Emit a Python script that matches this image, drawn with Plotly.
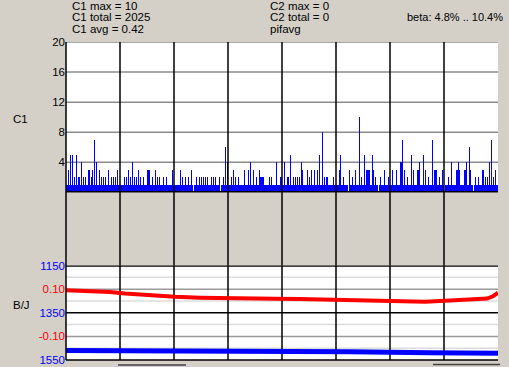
import plotly.graph_objects as go

# ---------------- data ----------------
# C1 counts, one value per pixel column, 8 divisions of 54 columns ('a' = 10)
c1_divisions = [
    "1131515121" "5122141212" "1133123171" "4113121212" "1131121212" "1311",
    "1111212131" "2141212131" "2112111333" "1121131212" "1112112111" "1131",
    "1111113121" "1211211310" "1121121212" "1212111212" "1211120112" "1614",
    "1112131211" "2111113111" "3141131121" "1322221111" "1212111141" "1122",
    "1141122151" "1212121214" "3111131213" "1131131511" "8121221111" "1211",
    "1113511211" "1103112113" "111a121151" "3333115312" "1101211131" "1121",
    "1131113111" "4471311211" "1513111334" "1115131121" "1171333112" "1131",
    "0111211411" "1133431111" "3341163110" "1211211133" "1212141712" "1311",
]
c1_values = [int(ch, 16) for d in c1_divisions for ch in d]
c1_x = [i + 0.5 for i in range(len(c1_values))]

# pifavg (red, right scale -0.2..0.2)
red_x = [0, 24, 44, 59, 84, 109, 134, 159, 184, 209, 234, 259, 284, 309, 334,
         359, 384, 409, 421, 427, 431, 432]
red_v = [0.095, 0.092, 0.088, 0.082, 0.074, 0.068, 0.064, 0.061, 0.060, 0.059,
         0.058, 0.056, 0.052, 0.048, 0.046, 0.047, 0.052, 0.055, 0.060, 0.070,
         0.081, 0.085]

# B/J (blue, reversed scale 1150..1550)
blue_x = [0, 84, 184, 284, 364, 432]
blue_v = [1510, 1510, 1512, 1515, 1519, 1521]

top_ticks = [4, 8, 12, 16, 20]
bj_ticks = [1150, 1350, 1550]
red_ticks = [0.10, -0.10]
red_ticktext = ["0.10", "-0.10"]

header_left = ["C1 max = 10", "C1 total = 2025", "C1 avg = 0.42"]
header_mid = ["C2 max = 0", "C2 total = 0", "pifavg"]
header_right = "beta: 4.8% .. 10.4%"

# ---------------- layout constants ----------------
W, H = 509, 367
ML, MR, MT, MB = 66, 11, 42, 7
PW, PH = W - ML - MR, H - MT - MB
BG = "#D4D0C8"
FONT = "Liberation Sans"


def px(x):
    return (x - ML) / PW


def py(y):
    return (H - MB - y) / PH


fig = go.Figure()

fig.add_trace(go.Bar(x=c1_x, y=c1_values, width=1, marker=dict(color="#0000FF", line=dict(width=0)),
                     xaxis="x", yaxis="y", showlegend=False, hoverinfo="skip"))
fig.add_trace(go.Scatter(x=blue_x, y=blue_v, mode="lines", line=dict(color="#0000FF", width=5),
                         xaxis="x", yaxis="y2", showlegend=False, hoverinfo="skip"))
fig.add_trace(go.Scatter(x=red_x, y=red_v, mode="lines", line=dict(color="#FF0000", width=4),
                         xaxis="x", yaxis="y3", showlegend=False, hoverinfo="skip"))

shapes = []
# top panel grid lines (gray)
for v in top_ticks:
    shapes.append(dict(type="line", xref="paper", yref="y", x0=0, x1=1, y0=v, y1=v,
                       line=dict(color="#8C8C8C", width=1.5), layer="below"))
# lower panel grid lines
for v in [1200, 1300, 1400, 1500]:
    shapes.append(dict(type="line", xref="paper", yref="y2", x0=0, x1=1, y0=v, y1=v,
                       line=dict(color="#DCDCDC", width=1.5), layer="below"))
for v in [1250, 1450]:
    shapes.append(dict(type="line", xref="paper", yref="y2", x0=0, x1=1, y0=v, y1=v,
                       line=dict(color="#9A9A9A", width=1.5), layer="below"))
shapes.append(dict(type="line", xref="paper", yref="y2", x0=0, x1=1, y0=1350, y1=1350,
                   line=dict(color="black", width=1.5), layer="below"))
# vertical division lines
for k in range(1, 8):
    xv = 54 * k
    shapes.append(dict(type="line", xref="x", yref="paper", x0=xv, x1=xv, y0=0.297, y1=1,
                       line=dict(color="black", width=1.5), layer="above"))
    shapes.append(dict(type="line", xref="x", yref="paper", x0=xv, x1=xv, y0=0, y1=0.297,
                       line=dict(color="black", width=1.5), layer="below"))
# zero line of top panel, top line of lower panel
shapes.append(dict(type="line", xref="paper", yref="y", x0=0, x1=1, y0=0, y1=0,
                   line=dict(color="black", width=3), layer="above"))
shapes.append(dict(type="line", xref="paper", yref="y2", x0=0, x1=1, y0=1150, y1=1150,
                   line=dict(color="black", width=2.5), layer="above"))
# frame: left and bottom black
shapes.append(dict(type="line", xref="paper", yref="paper", x0=0, x1=0, y0=0, y1=1,
                   line=dict(color="black", width=1.5), layer="above"))
shapes.append(dict(type="line", xref="paper", yref="paper", x0=0, x1=1, y0=0, y1=0,
                   line=dict(color="black", width=1.5), layer="above"))
# scrollbar-like decorations below the chart
shapes.append(dict(type="line", xref="paper", yref="paper", x0=px(118), x1=px(186), y0=py(365), y1=py(365),
                   line=dict(color="#404040", width=1.5)))
shapes.append(dict(type="line", xref="paper", yref="paper", x0=px(433), x1=px(500), y0=py(364.5), y1=py(364.5),
                   line=dict(color="#404040", width=1.5)))

annotations = []
for i, t in enumerate(header_left):
    annotations.append(dict(text=t, x=px(70), y=py(6 + 11.3 * i), xref="paper", yref="paper",
                            xanchor="left", yanchor="middle", showarrow=False,
                            font=dict(family=FONT, size=11.5, color="black")))
for i, t in enumerate(header_mid):
    annotations.append(dict(text=t, x=px(268), y=py(6 + 11.3 * i), xref="paper", yref="paper",
                            xanchor="left", yanchor="middle", showarrow=False,
                            font=dict(family=FONT, size=11.5, color="black")))
annotations.append(dict(text=header_right, x=px(505), y=py(17.3), xref="paper", yref="paper",
                        xanchor="right", yanchor="middle", showarrow=False,
                        font=dict(family=FONT, size=11, color="black")))
annotations.append(dict(text="C1", x=px(11), y=py(119), xref="paper", yref="paper",
                        xanchor="left", yanchor="middle", showarrow=False,
                        font=dict(family=FONT, size=11.5, color="black")))
annotations.append(dict(text="B/J", x=px(11), y=py(305), xref="paper", yref="paper",
                        xanchor="left", yanchor="middle", showarrow=False,
                        font=dict(family=FONT, size=11.5, color="black")))

fig.update_layout(
    width=W, height=H,
    margin=dict(l=ML, r=MR, t=MT, b=MB, pad=0, autoexpand=False),
    paper_bgcolor=BG, plot_bgcolor="white",
    bargap=0, showlegend=False,
    xaxis=dict(range=[0, 432], domain=[0, 1], showgrid=False, zeroline=False, automargin=False,
               showticklabels=False, ticks="", showline=False, fixedrange=True),
    yaxis=dict(range=[0, 20], domain=[0.527, 1], showgrid=False, zeroline=False, automargin=False,
               tickvals=top_ticks, ticktext=[str(v) for v in top_ticks], ticks="",
               tickfont=dict(family=FONT, size=11.5, color="black"), showline=False),
    yaxis2=dict(range=[1550, 1150], domain=[0, 0.297], showgrid=False, zeroline=False, automargin=False,
                tickvals=bj_ticks, ticktext=[str(v) for v in bj_ticks], ticks="",
                tickfont=dict(family=FONT, size=11.5, color="#0000FF"), showline=False, anchor="x"),
    yaxis3=dict(range=[-0.2, 0.2], overlaying="y2", side="left", showgrid=False, zeroline=False,
                automargin=False, tickvals=red_ticks, ticktext=red_ticktext, ticks="",
                tickfont=dict(family=FONT, size=11.5, color="#FF0000"), showline=False, anchor="x"),
    shapes=shapes, annotations=annotations,
)

fig.write_html("out.html")
